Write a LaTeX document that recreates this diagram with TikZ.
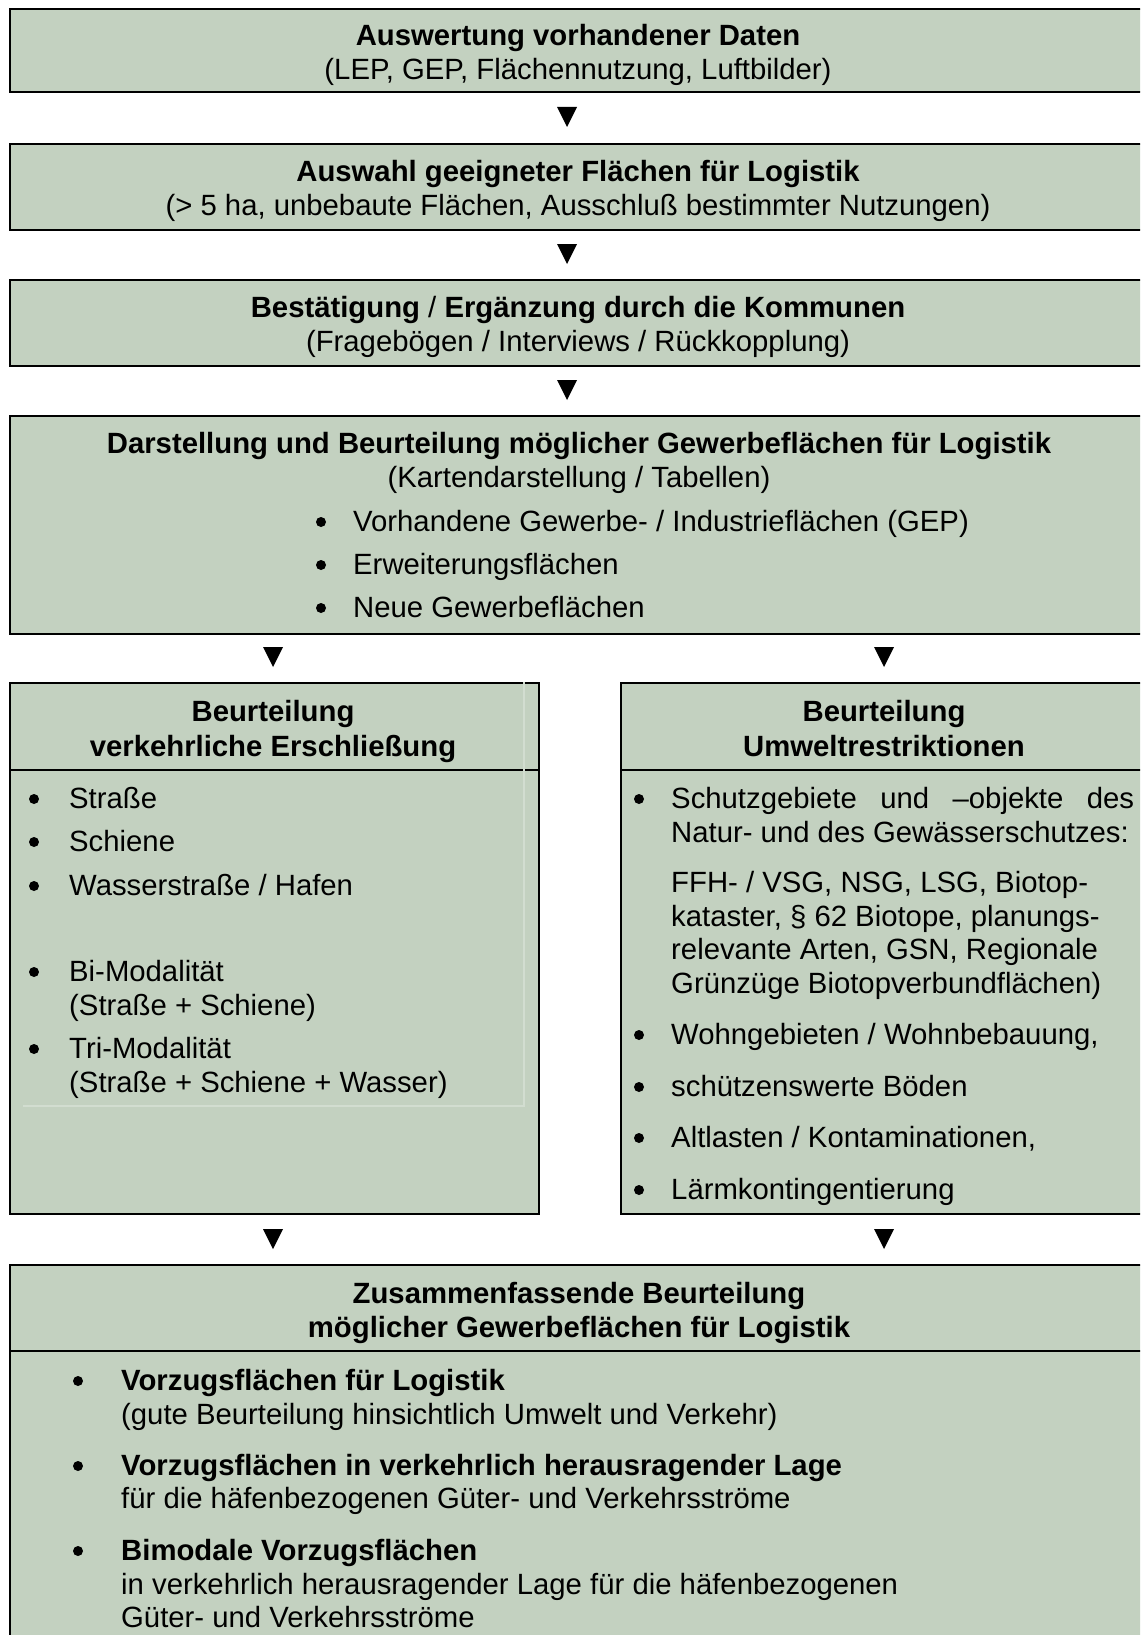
\documentclass[tikz,border=0pt]{standalone}
\usepackage{fontspec}
\setmainfont{Liberation Sans}
\usetikzlibrary{calc}
\definecolor{sage}{RGB}{195,209,192}
\definecolor{faint}{RGB}{210,221,208}
\tikzset{
 panel/.style={draw=black, line width=2.3pt, fill=sage, rectangle, inner sep=0pt, anchor=north west},
 txt/.style={inner sep=0pt, anchor=base west, font=\fontsize{29.3}{34}\selectfont},
 ctxt/.style={inner sep=0pt, anchor=base, font=\fontsize{29.3}{34}\selectfont},
 btxt/.style={inner sep=0pt, anchor=base west, font=\fontsize{29.3}{34}\selectfont\bfseries},
 bctxt/.style={inner sep=0pt, anchor=base, font=\fontsize{29.3}{34}\selectfont\bfseries},
 bul/.style={circle, fill=black, inner sep=0pt, minimum size=10pt},
 tri/.style={fill=black},
 divider/.style={draw=black, line width=2.3pt},
 faintline/.style={draw=faint, line width=1.2pt}
}
\begin{document}
\begin{tikzpicture}[x=1pt,y=-1pt]
\useasboundingbox (0,0) rectangle (1140,1635);
\clip (0,0) rectangle (1140,1635);
% boxes
\node[panel, minimum width=1139pt, minimum height=83pt] (b1) at (9,8) {};
\node[panel, minimum width=1139pt, minimum height=86pt] (b2) at (9,143) {};
\node[panel, minimum width=1139pt, minimum height=86pt] (b3) at (9,279) {};
\node[panel, minimum width=1139pt, minimum height=218pt] (b4) at (9,415) {};
\node[panel, minimum width=529pt, minimum height=531pt] (bl) at (9,682) {};
\node[panel, minimum width=528pt, minimum height=531pt] (br) at (620,682) {};
\node[panel, minimum width=1139pt, minimum height=420pt] (b5) at (9,1264) {};
% dividers
\coordinate (dv1) at (0,770);
\coordinate (dv2) at (0,1351);
\draw[divider] (bl.west |- dv1) -- (bl.east |- dv1);
\draw[divider] (br.west |- dv1) -- (br.east |- dv1);
\draw[divider] (b5.west |- dv2) -- (b5.east |- dv2);
% faint table remnants in left box
\coordinate (f1) at (524,682);
\coordinate (f2) at (524,1106);
\coordinate (f3) at (23,1106);
\draw[faintline] (f1) -- (f2) -- (f3);
% arrows
\coordinate (a1) at (567,117);
\coordinate (a2) at (567,254);
\coordinate (a3) at (567,390);
\coordinate (a4l) at (273,657);
\coordinate (a4r) at (884,657);
\coordinate (a5l) at (273,1239);
\coordinate (a5r) at (884,1239);
\foreach \a in {a1,a2,a3,a4l,a4r,a5l,a5r}
  \fill[tri] (\a) ++(-10,-10) -- ++(20,0) -- ++(-10,20) -- cycle;
% box 1
\node[bctxt] (t11) at (578,46) {Auswertung vorhandener Daten};
\node[ctxt] (t12) at (578,80) {(LEP, GEP, Flächennutzung, Luftbilder)};
% box 2
\node[bctxt] (t21) at (578,181) {Auswahl geeigneter Flächen für Logistik};
\node[ctxt] (t22) at (578,215) {(> 5 ha, unbebaute Flächen, Ausschluß bestimmter Nutzungen)};
% box 3
\node[bctxt] (t31) at (578,317) {Bestätigung {\mdseries /} Ergänzung durch die Kommunen};
\node[ctxt] (t32) at (578,351) {(Fragebögen / Interviews / Rückkopplung)};
% box 4
\node[bctxt] (t41) at (579,453) {Darstellung und Beurteilung möglicher Gewerbeflächen für Logistik};
\node[ctxt] (t42) at (579,487) {(Kartendarstellung / Tabellen)};
\node[bul] (d41) at (321,522) {};
\node[txt] (t43) at (353,531) {Vorhandene Gewerbe- / Industrieflächen (GEP)};
\node[bul] (d42) at (321,565) {};
\node[txt] (t44) at (353,574) {Erweiterungsflächen};
\node[bul] (d43) at (321,608) {};
\node[txt] (t45) at (353,617) {Neue Gewerbeflächen};
% left box
\node[bctxt] (l1) at (273,721) {Beurteilung};
\node[bctxt] (l2) at (273,756) {verkehrliche Erschließung};
\node[bul] (dl1) at (34,799) {};
\node[txt] (l3) at (69,808) {Straße};
\node[bul] (dl2) at (34,842) {};
\node[txt] (l4) at (69,851) {Schiene};
\node[bul] (dl3) at (34,886) {};
\node[txt] (l5) at (69,895) {Wasserstraße / Hafen};
\node[bul] (dl4) at (34,972) {};
\node[txt] (l6) at (69,981) {Bi-Modalität};
\node[txt] (l7) at (69,1015) {(Straße + Schiene)};
\node[bul] (dl5) at (34,1049) {};
\node[txt] (l8) at (69,1058) {Tri-Modalität};
\node[txt] (l9) at (69,1092) {(Straße + Schiene + Wasser)};
% right box
\node[bctxt] (r1) at (884,721) {Beurteilung};
\node[bctxt] (r2) at (884,756) {Umweltrestriktionen};
\node[bul] (dr1) at (639,799) {};
\node[txt] (r3) at (671,808) {\hbox to 463pt{Schutzgebiete\hfill und\hfill –objekte\hfill des}};
\node[txt] (r4) at (671,842) {Natur- und des Gewässerschutzes:};
\node[txt] (r5) at (671,892) {FFH- / VSG, NSG, LSG, Biotop-};
\node[txt] (r6) at (671,926) {kataster, § 62 Biotope, planungs-};
\node[txt] (r7) at (671,959) {relevante Arten, GSN, Regionale};
\node[txt] (r8) at (671,993) {Grünzüge Biotopverbundflächen)};
\node[bul] (dr2) at (639,1035) {};
\node[txt] (r9) at (671,1044) {Wohngebieten / Wohnbebauung,};
\node[bul] (dr3) at (639,1087) {};
\node[txt] (r10) at (671,1096) {schützenswerte Böden};
\node[bul] (dr4) at (639,1138) {};
\node[txt] (r11) at (671,1147) {Altlasten / Kontaminationen,};
\node[bul] (dr5) at (639,1190) {};
\node[txt] (r12) at (671,1199) {Lärmkontingentierung};
% bottom box
\node[bctxt] (z1) at (579,1303) {Zusammenfassende Beurteilung};
\node[bctxt] (z2) at (579,1337) {möglicher Gewerbeflächen für Logistik};
\node[bul] (dz1) at (78,1381) {};
\node[btxt] (z3) at (121,1390) {Vorzugsflächen für Logistik};
\node[txt] (z4) at (121,1424) {(gute Beurteilung hinsichtlich Umwelt und Verkehr)};
\node[bul] (dz2) at (78,1466) {};
\node[btxt] (z5) at (121,1475) {Vorzugsflächen in verkehrlich herausragender Lage};
\node[txt] (z6) at (121,1508) {für die häfenbezogenen Güter- und Verkehrsströme};
\node[bul] (dz3) at (78,1551) {};
\node[btxt] (z7) at (121,1560) {Bimodale Vorzugsflächen};
\node[txt] (z8) at (121,1594) {in verkehrlich herausragender Lage für die häfenbezogenen};
\node[txt] (z9) at (121,1627) {Güter- und Verkehrsströme};
\end{tikzpicture}
\end{document}
